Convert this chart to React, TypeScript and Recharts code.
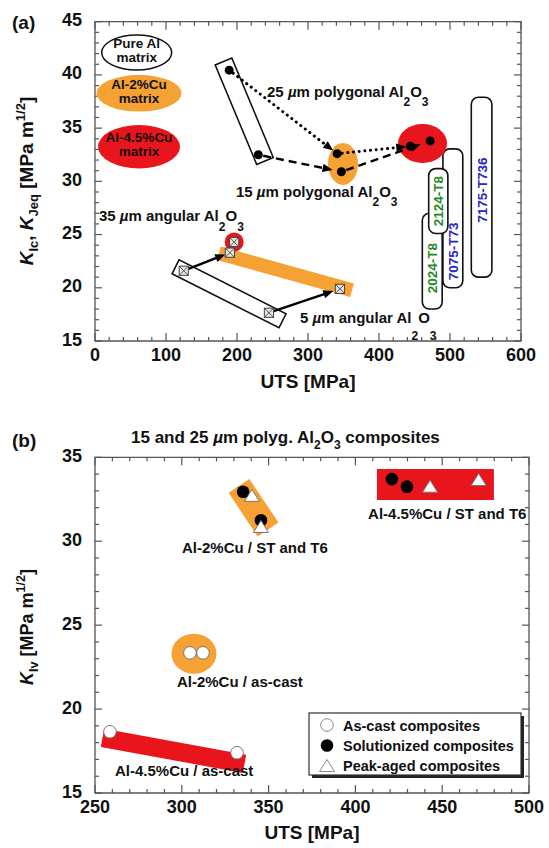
import React from "react";
import {
  ScatterChart,
  Scatter,
  XAxis,
  YAxis,
  ReferenceLine,
  ReferenceDot,
  ReferenceArea,
} from "recharts";

const FONT = '"Liberation Sans", Arial, Helvetica, sans-serif';
const ORANGE = "#f5a133";
const RED = "#e8161c";
const FRAME = "#555";
const GREEN = "#1f8a1f";
const BLUE = "#2828c4";

// ---------- panel (a): K vs UTS ----------
const aXMajor = [0, 100, 200, 300, 400, 500, 600];
const aYMajor = [15, 20, 25, 30, 35, 40, 45];

// polygonal particles, index 0 = 25 um, index 1 = 15 um
const polyPureAl = [{ x: 189, y: 40.45 }, { x: 230, y: 32.5 }];
const polyCu2 = [{ x: 341, y: 32.6 }, { x: 347, y: 30.9 }];
const polyCu45 = [{ x: 444, y: 33.3 }, { x: 472, y: 33.8 }];
// angular particles, index 0 = 35 um, index 1 = 5 um
const angPureAl = [{ x: 125, y: 21.6 }, { x: 245, y: 17.65 }];
const angCu2 = [{ x: 190, y: 23.3 }, { x: 345, y: 19.9 }];
const angCu45 = [{ x: 196, y: 24.3 }];

// group outlines
const pureAlPolyBand = [{ x: 181, y: 41.26 }, { x: 239.4, y: 31.92 }];
const pureAlAngBand = [{ x: 113.4, y: 21.97 }, { x: 264.1, y: 16.9 }];
const cu2AngBand = [{ x: 174.6, y: 23.24 }, { x: 362, y: 19.76 }];
const cu2PolyCenter = { x: 349.3, y: 31.64 };
const cu45PolyCenter = { x: 461.3, y: 33.56 };

// commercial alloys (drawn back to front)
const alloyNames = ["7075-T73", "7175-T736", "2024-T8", "2124-T8"];
const alloyUts = [[490, 518], [530, 559], [461, 489], [470, 497]];
const alloyK = [[20.0, 33.05], [21.0, 37.9], [18.0, 27.0], [25.1, 31.2]];
const alloyColors = [BLUE, BLUE, GREEN, GREEN];
const alloyLabelShift = [33, 3, 7, 0];

// ---------- panel (b): K_Iv vs UTS ----------
const bXMajor = [250, 300, 350, 400, 450, 500];
const bYMajor = [15, 20, 25, 30, 35];

const asCastCu2 = [{ x: 304.7, y: 23.35 }, { x: 312.2, y: 23.35 }];
const asCastCu45 = [{ x: 258.6, y: 18.65 }, { x: 331.8, y: 17.4 }];
const solCu2 = [{ x: 335.3, y: 32.95 }, { x: 345.6, y: 31.25 }];
const solCu45 = [{ x: 421, y: 33.7 }, { x: 429.7, y: 33.25 }];
const agedCu2 = [{ x: 340.4, y: 32.7 }, { x: 345.6, y: 30.85 }];
const agedCu45 = [{ x: 443, y: 33.25 }, { x: 471, y: 33.65 }];

const cu2StBand = [{ x: 332.9, y: 33.3 }, { x: 349.7, y: 30.7 }];
const cu45StBox = { x: [412.4, 479.8], y: [32.46, 34.3] };
const cu2CastCenter = { x: 307, y: 23.3 };
const cu45CastBand = [{ x: 254.3, y: 18.29 }, { x: 336.1, y: 16.74 }];

// plot geometry
const A_W = 426;
const A_H = 319.3;
const B_W = 434;
const B_H = 335.7;

const minors = (from: number, to: number, step: number) => {
  const out: number[] = [];
  for (let v = from; v <= to + 1e-9; v += step) out.push(v);
  return out;
};

const xTick = (plotH: number, majors: number[]) => (p: any) => {
  const v = p.payload.value;
  const major = majors.includes(v);
  const L = major ? 8 : 4;
  return (
    <g>
      <line x1={p.x} x2={p.x} y1={p.y} y2={p.y - L} stroke={FRAME} strokeWidth={1.2} />
      <line x1={p.x} x2={p.x} y1={p.y - plotH} y2={p.y - plotH + L} stroke={FRAME} strokeWidth={1.2} />
      {major && (
        <text x={p.x} y={p.y + 20} textAnchor="middle" fontSize={18} fontWeight="bold" fontFamily={FONT} fill="#111">
          {v}
        </text>
      )}
    </g>
  );
};

const yTick = (plotW: number, majors: number[]) => (p: any) => {
  const v = p.payload.value;
  const major = majors.includes(v);
  const L = major ? 7 : 4;
  return (
    <g>
      <line x1={p.x} x2={p.x + L} y1={p.y} y2={p.y} stroke={FRAME} strokeWidth={1.2} />
      <line x1={p.x + plotW} x2={p.x + plotW - L} y1={p.y} y2={p.y} stroke={FRAME} strokeWidth={1.2} />
      {major && (
        <text x={p.x - 13} y={p.y + 4.5} textAnchor="end" fontSize={18} fontWeight="bold" fontFamily={FONT} fill="#111">
          {v}
        </text>
      )}
    </g>
  );
};

// rotated band between two data points
const band = (half: number, fill: string, stroke = "none") => (p: any) => {
  const dx = p.x2 - p.x1;
  const dy = p.y2 - p.y1;
  const len = Math.hypot(dx, dy) || 1;
  const nx = (-dy / len) * half;
  const ny = (dx / len) * half;
  const pts = [
    [p.x1 + nx, p.y1 + ny],
    [p.x2 + nx, p.y2 + ny],
    [p.x2 - nx, p.y2 - ny],
    [p.x1 - nx, p.y1 - ny],
  ]
    .map((q) => q.join(","))
    .join(" ");
  return <polygon points={pts} fill={fill} stroke={stroke} strokeWidth={1.6} />;
};

const arrow = (kind: "solid" | "dot" | "dash", gapEnd: number, gapStart = 5) => (p: any) => {
  const dx = p.x2 - p.x1;
  const dy = p.y2 - p.y1;
  const len = Math.hypot(dx, dy) || 1;
  const ux = dx / len;
  const uy = dy / len;
  const tx = p.x2 - ux * gapEnd;
  const ty = p.y2 - uy * gapEnd;
  const hl = 10;
  const hw = 4.2;
  const bx = tx - ux * hl;
  const by = ty - uy * hl;
  const dash = kind === "dot" ? "0.1 5.6" : kind === "dash" ? "8 5" : undefined;
  return (
    <g>
      <line
        x1={p.x1 + ux * gapStart}
        y1={p.y1 + uy * gapStart}
        x2={bx + ux * 2}
        y2={by + uy * 2}
        stroke="#000"
        strokeWidth={kind === "dot" ? 3 : 2.4}
        strokeDasharray={dash}
        strokeLinecap={kind === "dot" ? "round" : "butt"}
      />
      <polygon points={`${tx},${ty} ${bx - uy * hw},${by + ux * hw} ${bx + uy * hw},${by - ux * hw}`} fill="#000" />
    </g>
  );
};

const ellipse = (rx: number, ry: number, fill: string) => (p: any) => (
  <ellipse cx={p.cx} cy={p.cy} rx={rx} ry={ry} fill={fill} />
);

const alloyBox = (name: string, color: string, shift: number) => (p: any) => (
  <g>
    <rect x={p.x} y={p.y} width={p.width} height={p.height} rx={7} fill="#fff" stroke="#111" strokeWidth={1.6} />
    <text
      transform={`translate(${p.x + p.width / 2 + 5}, ${p.y + p.height / 2 + shift}) rotate(-90)`}
      textAnchor="middle"
      fontSize={13.5}
      fontWeight="bold"
      fill={color}
      fontFamily={FONT}
    >
      {name}
    </text>
  </g>
);

const al2o3 = (drop: number, sub: number) => [
  <tspan key="a">Al</tspan>,
  <tspan key="b" dy={drop} fontSize={sub}>2</tspan>,
  <tspan key="c" dy={-drop}>O</tspan>,
  <tspan key="d" dy={drop} fontSize={sub}>3</tspan>,
];

const note = (pre: string, drop: number, withOxide: boolean, size = 15) => (p: any) => (
  <text x={p.cx} y={p.cy} fontSize={size} fontWeight="bold" fontFamily={FONT} fill="#111">
    {pre.split("µ").map((s, i) =>
      i === 0 ? (
        <tspan key={i}>{s}</tspan>
      ) : (
        <tspan key={i}>
          <tspan fontStyle="italic">µ</tspan>
          {s}
        </tspan>
      )
    )}
    {withOxide && al2o3(drop, 12)}
  </text>
);

const blackDot = (p: any) => <circle cx={p.cx} cy={p.cy} r={4.5} fill="#000" />;
const crossSquare = (p: any) => {
  const s = 4.6;
  return (
    <g>
      <rect x={p.cx - s} y={p.cy - s} width={2 * s} height={2 * s} fill="#e4e4e4" stroke="#444" strokeWidth={1} />
      <path
        d={`M${p.cx - s} ${p.cy - s}L${p.cx + s} ${p.cy + s}M${p.cx + s} ${p.cy - s}L${p.cx - s} ${p.cy + s}`}
        stroke="#444"
        strokeWidth={0.9}
      />
    </g>
  );
};
const openCircle = (p: any) => <circle cx={p.cx} cy={p.cy} r={6.3} fill="#fff" stroke="#777" strokeWidth={1} />;
const bigDot = (p: any) => <circle cx={p.cx} cy={p.cy} r={6.3} fill="#000" />;
const openTri = (p: any) => (
  <polygon
    points={`${p.cx},${p.cy - 6.5} ${p.cx + 7.5},${p.cy + 5.5} ${p.cx - 7.5},${p.cy + 5.5}`}
    fill="#fff"
    stroke="#777"
    strokeWidth={1}
  />
);

const PanelA = () => (
  <ScatterChart width={549} height={400} margin={{ top: 21.7, right: 28, bottom: 29, left: 55 }}>
    <XAxis
      type="number"
      dataKey="x"
      domain={[0, 600]}
      ticks={minors(0, 600, 20)}
      interval={0}
      tickSize={0}
      tickMargin={0}
      axisLine={false}
      tickLine={false}
      height={30}
      tick={xTick(A_H, aXMajor)}
    />
    <YAxis
      type="number"
      dataKey="y"
      domain={[15, 45]}
      ticks={minors(15, 45, 1)}
      interval={0}
      tickSize={0}
      tickMargin={0}
      axisLine={false}
      tickLine={false}
      width={40}
      tick={yTick(A_W, aYMajor)}
    />
    <ReferenceArea x1={0} x2={600} y1={15} y2={45} fill="none" stroke={FRAME} strokeWidth={1.3} zIndex={50} />

    {alloyNames.map((n, i) => (
      <ReferenceArea
        key={n}
        x1={alloyUts[i][0]}
        x2={alloyUts[i][1]}
        y1={alloyK[i][0]}
        y2={alloyK[i][1]}
        zIndex={100 + i}
        shape={alloyBox(n, alloyColors[i], alloyLabelShift[i])}
      />
    ))}
    <ReferenceLine segment={pureAlPolyBand} zIndex={110} shape={band(9, "#fff", "#111")} />
    <ReferenceLine segment={pureAlAngBand} zIndex={110} shape={band(7.8, "#fff", "#111")} />
    <ReferenceLine segment={cu2AngBand} zIndex={111} shape={band(7, ORANGE)} />
    <ReferenceDot x={cu2PolyCenter.x} y={cu2PolyCenter.y} zIndex={112} shape={ellipse(15, 21, ORANGE)} />
    <ReferenceDot x={cu45PolyCenter.x} y={cu45PolyCenter.y} zIndex={112} shape={ellipse(24.5, 19.5, RED)} />
    <ReferenceDot x={angCu45[0].x} y={angCu45[0].y} zIndex={112} shape={ellipse(9.5, 9.5, RED)} />

    <ReferenceLine segment={[polyPureAl[0], polyCu2[0]]} zIndex={450} shape={arrow("dot", 5)} />
    <ReferenceLine segment={[polyCu2[0], polyCu45[0]]} zIndex={450} shape={arrow("dot", 4)} />
    <ReferenceLine segment={[polyPureAl[1], polyCu2[1]]} zIndex={450} shape={arrow("dash", 9)} />
    <ReferenceLine segment={[polyCu2[1], polyCu45[1]]} zIndex={450} shape={arrow("dash", 10)} />
    <ReferenceLine segment={[angPureAl[0], angCu2[0]]} zIndex={450} shape={arrow("solid", 5)} />
    <ReferenceLine segment={[angPureAl[1], angCu2[1]]} zIndex={450} shape={arrow("solid", 7)} />

    <Scatter data={polyPureAl} shape={blackDot} isAnimationActive={false} />
    <Scatter data={polyCu2} shape={blackDot} isAnimationActive={false} />
    <Scatter data={polyCu45} shape={blackDot} isAnimationActive={false} />
    <Scatter data={angPureAl} shape={crossSquare} isAnimationActive={false} />
    <Scatter data={angCu2} shape={crossSquare} isAnimationActive={false} />
    <Scatter data={angCu45} shape={crossSquare} isAnimationActive={false} />

    <ReferenceDot x={242.3} y={37.93} zIndex={2000} shape={note("25 µm polygonal ", 9, true)} />
    <ReferenceDot x={198.6} y={28.53} zIndex={2000} shape={note("15 µm polygonal ", 9, true)} />
    <ReferenceDot x={5.6} y={26.29} zIndex={2000} shape={note("35 µm angular ", 10, true)} />
    <ReferenceDot x={288.7} y={16.68} zIndex={2000} shape={note("5 µm angular ", 17, true)} />
  </ScatterChart>
);

const PanelB = () => (
  <ScatterChart width={549} height={428} margin={{ top: 37.3, right: 20, bottom: 25, left: 55 }}>
    <XAxis
      type="number"
      dataKey="x"
      domain={[250, 500]}
      ticks={minors(250, 500, 10)}
      interval={0}
      tickSize={0}
      tickMargin={0}
      axisLine={false}
      tickLine={false}
      height={30}
      tick={xTick(B_H, bXMajor)}
    />
    <YAxis
      type="number"
      dataKey="y"
      domain={[15, 35]}
      ticks={minors(15, 35, 1)}
      interval={0}
      tickSize={0}
      tickMargin={0}
      axisLine={false}
      tickLine={false}
      width={40}
      tick={yTick(B_W, bYMajor)}
    />
    <ReferenceArea x1={250} x2={500} y1={15} y2={35} fill="none" stroke={FRAME} strokeWidth={1.3} zIndex={50} />

    <ReferenceArea x1={cu45StBox.x[0]} x2={cu45StBox.x[1]} y1={cu45StBox.y[0]} y2={cu45StBox.y[1]} fill={RED} fillOpacity={1} zIndex={100} />
    <ReferenceLine segment={cu2StBand} zIndex={110} shape={band(12.5, ORANGE)} />
    <ReferenceLine segment={cu45CastBand} zIndex={110} shape={band(9.3, RED)} />
    <ReferenceDot x={cu2CastCenter.x} y={cu2CastCenter.y} zIndex={112} shape={ellipse(22.5, 20, ORANGE)} />

    <Scatter data={asCastCu2} shape={openCircle} isAnimationActive={false} />
    <Scatter data={asCastCu45} shape={openCircle} isAnimationActive={false} />
    <Scatter data={solCu2} shape={bigDot} isAnimationActive={false} />
    <Scatter data={solCu45} shape={bigDot} isAnimationActive={false} />
    <Scatter data={agedCu2} shape={openTri} isAnimationActive={false} />
    <Scatter data={agedCu45} shape={openTri} isAnimationActive={false} />

    <ReferenceDot x={300.1} y={29.3} zIndex={2000} shape={note("Al-2%Cu / ST and T6", 0, false)} />
    <ReferenceDot x={407.3} y={31.33} zIndex={2000} shape={note("Al-4.5%Cu / ST and T6", 0, false)} />
    <ReferenceDot x={297.2} y={21.33} zIndex={2000} shape={note("Al-2%Cu / as-cast", 0, false)} />
    <ReferenceDot x={261.5} y={16.03} zIndex={2000} shape={note("Al-4.5%Cu / as-cast", 0, false)} />
  </ScatterChart>
);

const txt = { fontFamily: FONT, fontWeight: "bold" as const, fill: "#111" };

const Overlay = () => (
  <svg width={549} height={848} style={{ position: "absolute", left: 0, top: 0, pointerEvents: "none" }}>
    {/* panel (a) */}
    <text x={12} y={29} fontSize={19} {...txt}>(a)</text>
    <text transform="rotate(-90 33 181)" x={33} y={181} textAnchor="middle" fontSize={19} {...txt}>
      <tspan fontStyle="italic">K</tspan>
      <tspan dy={5} fontSize={13}>Ic</tspan>
      <tspan dy={-5}>, </tspan>
      <tspan fontStyle="italic">K</tspan>
      <tspan dy={5} fontSize={13}>Jeq</tspan>
      <tspan dy={-5}> [MPa m</tspan>
      <tspan dy={-8} fontSize={13}>1/2</tspan>
      <tspan dy={8}>]</tspan>
    </text>
    <text x={308} y={388} textAnchor="middle" fontSize={19} {...txt}>UTS [MPa]</text>

    <ellipse cx={136.7} cy={52.5} rx={35} ry={17.5} fill="#fff" stroke="#111" strokeWidth={1.5} />
    <text x={136.7} y={48} textAnchor="middle" fontSize={13.5} {...txt}>Pure Al</text>
    <text x={136.7} y={62} textAnchor="middle" fontSize={13.5} {...txt}>matrix</text>
    <ellipse cx={139} cy={93.3} rx={42.5} ry={18.3} fill={ORANGE} />
    <text x={139} y={89} textAnchor="middle" fontSize={13.5} {...txt}>Al-2%Cu</text>
    <text x={139} y={103} textAnchor="middle" fontSize={13.5} {...txt}>matrix</text>
    <ellipse cx={139} cy={146.7} rx={41} ry={21.7} fill={RED} />
    <text x={139} y={142} textAnchor="middle" fontSize={13.5} {...txt}>Al-4.5%Cu</text>
    <text x={139} y={156} textAnchor="middle" fontSize={13.5} {...txt}>matrix</text>

    {/* panel (b) */}
    <text x={12} y={447} fontSize={19} {...txt}>(b)</text>
    <text x={131} y={443} fontSize={17} {...txt}>
      15 and 25 <tspan fontStyle="italic">µ</tspan>m polyg. Al
      <tspan dy={6} fontSize={12}>2</tspan>
      <tspan dy={-6}>O</tspan>
      <tspan dy={6} fontSize={12}>3</tspan>
      <tspan dy={-6}> composites</tspan>
    </text>
    <text transform="rotate(-90 33 627)" x={33} y={627} textAnchor="middle" fontSize={18} {...txt}>
      <tspan fontStyle="italic">K</tspan>
      <tspan dy={5} fontSize={12.5}>Iv</tspan>
      <tspan dy={-5}> [MPa m</tspan>
      <tspan dy={-8} fontSize={12.5}>1/2</tspan>
      <tspan dy={8}>]</tspan>
    </text>
    <text x={312} y={839} textAnchor="middle" fontSize={19} {...txt}>UTS [MPa]</text>

    <rect x={312} y={716} width={212} height={62} fill="#222" />
    <rect x={309} y={713} width={212} height={62} fill="#fff" stroke="#333" strokeWidth={1.2} />
    <circle cx={327} cy={725} r={6.3} fill="#fff" stroke="#888" strokeWidth={1} />
    <text x={343} y={730.5} fontSize={14.5} {...txt}>As-cast composites</text>
    <circle cx={327} cy={745.5} r={6.3} fill="#000" />
    <text x={343} y={751} fontSize={14.5} {...txt}>Solutionized composites</text>
    <polygon points="327,759.5 334.5,771.5 319.5,771.5" fill="#fff" stroke="#888" strokeWidth={1} />
    <text x={343} y={771} fontSize={14.5} {...txt}>Peak-aged composites</text>
  </svg>
);

export default function App() {
  return (
    <div style={{ position: "absolute", left: 0, top: 0, width: 549, height: 848, background: "#fff" }}>
      <div style={{ position: "absolute", left: 0, top: 0 }}>
        <PanelA />
      </div>
      <div style={{ position: "absolute", left: 0, top: 420 }}>
        <PanelB />
      </div>
      <Overlay />
    </div>
  );
}
